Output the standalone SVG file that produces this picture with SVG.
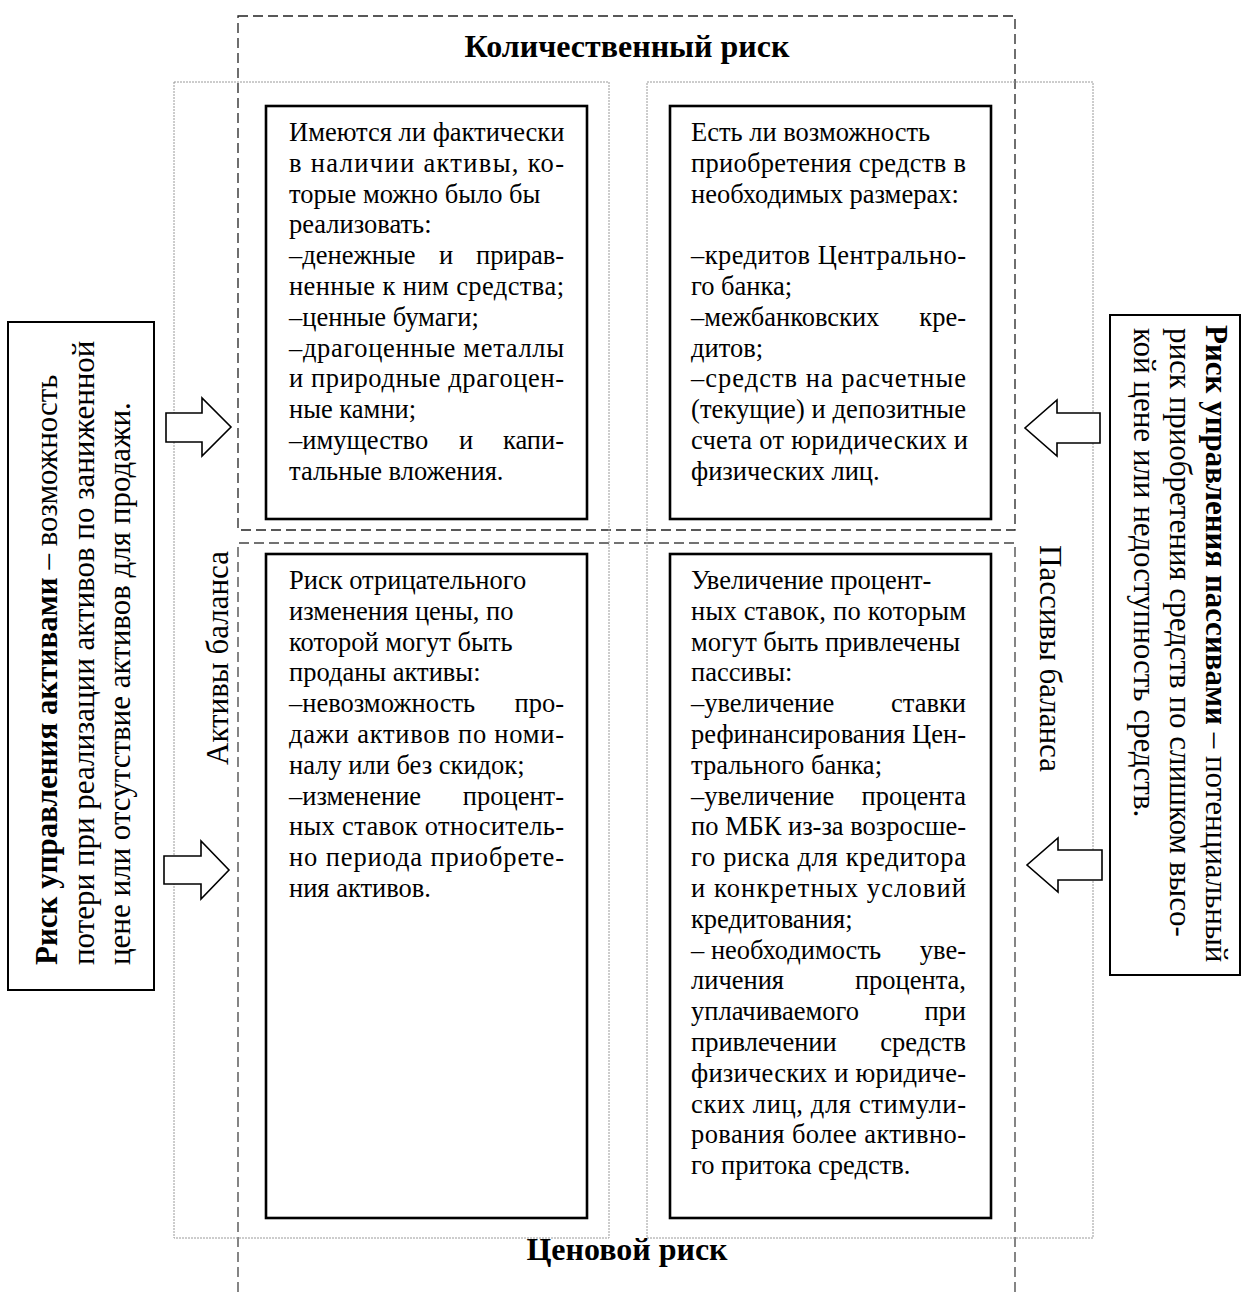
<svg xmlns="http://www.w3.org/2000/svg" width="1248" height="1292" viewBox="0 0 1248 1292">
  <style>
    text { font-family: "Liberation Serif", "Times New Roman", serif; fill: #000; }
    .t { font-size: 26.5px; }
    .big { font-size: 31px; }
    .title { font-size: 32px; font-weight: bold; }
    .b { font-weight: bold; }
    .box { fill: #fff; stroke: #000; stroke-width: 2.6; }
    .side { fill: #fff; stroke: #000; stroke-width: 2; }
    .zone { fill: none; stroke: #222; stroke-width: 1.3; stroke-dasharray: 10 5; }
    .zone2 { fill: none; stroke: #444; stroke-width: 1.3; stroke-dasharray: 10 5; }
    .half { fill: none; stroke: #9a9a9a; stroke-width: 1; stroke-dasharray: 2 1; }
    .arrow { fill: #fff; stroke: #000; stroke-width: 1.6; stroke-linejoin: miter; }
  </style>

  <rect width="1248" height="1292" fill="#fff"/>

  <!-- risk zones (dashed) -->
  <g id="zone-quantity">
    <rect class="zone" x="238" y="16" width="777" height="514"/>
    <text class="title" x="627" y="57" text-anchor="middle">Количественный риск</text>
  </g>
  <g id="zone-price">
    <path class="zone2" d="M238,1292 V543 H1015 V1292"/>
    <text class="title" x="627" y="1260" text-anchor="middle">Ценовой риск</text>
  </g>

  <!-- balance halves (dotted) -->
  <g id="assets-half">
    <rect class="half" x="174" y="82" width="435" height="1156"/>
    <text class="big" transform="translate(228,765) rotate(-90)">Активы баланса</text>
  </g>
  <g id="liabilities-half">
    <rect class="half" x="647" y="82" width="446" height="1156"/>
    <text class="big" transform="translate(1040,545) rotate(90)">Пассивы баланса</text>
  </g>

  <!-- quantity risk: assets -->
  <g id="node-qty-assets">
    <rect class="box" x="266" y="106" width="321" height="413"/>
    <text class="t" x="289" y="141">Имеются ли фактически</text>
    <text class="t" x="289" y="171.8" textLength="275" lengthAdjust="spacing">в наличии активы, ко-</text>
    <text class="t" x="289" y="202.6">торые можно было бы</text>
    <text class="t" x="289" y="233.4">реализовать:</text>
    <text class="t" y="264.2"><tspan x="289">–денежные</tspan><tspan x="446" text-anchor="middle">и</tspan><tspan x="564" text-anchor="end">прирав-</tspan></text>
    <text class="t" x="289" y="295" textLength="275" lengthAdjust="spacing">ненные к ним средства;</text>
    <text class="t" x="289" y="325.8">–ценные бумаги;</text>
    <text class="t" x="289" y="356.6" textLength="275" lengthAdjust="spacing">–драгоценные металлы</text>
    <text class="t" x="289" y="387.4" textLength="275" lengthAdjust="spacing">и природные драгоцен-</text>
    <text class="t" x="289" y="418.2">ные камни;</text>
    <text class="t" y="449"><tspan x="289">–имущество</tspan><tspan x="466" text-anchor="middle">и</tspan><tspan x="564" text-anchor="end">капи-</tspan></text>
    <text class="t" x="289" y="479.8">тальные вложения.</text>
  </g>

  <!-- quantity risk: liabilities -->
  <g id="node-qty-liabilities">
    <rect class="box" x="670" y="106" width="321" height="413"/>
    <text class="t" x="691" y="141">Есть ли возможность</text>
    <text class="t" x="691" y="171.8" textLength="275" lengthAdjust="spacing">приобретения средств в</text>
    <text class="t" x="691" y="202.6">необходимых размерах:</text>
    <text class="t" x="691" y="264.2" textLength="275" lengthAdjust="spacing">–кредитов Центрально-</text>
    <text class="t" x="691" y="295">го банка;</text>
    <text class="t" y="325.8"><tspan x="691">–межбанковских</tspan><tspan x="966" text-anchor="end">кре-</tspan></text>
    <text class="t" x="691" y="356.6">дитов;</text>
    <text class="t" x="691" y="387.4" textLength="275" lengthAdjust="spacing">–средств на расчетные</text>
    <text class="t" x="691" y="418.2" textLength="275" lengthAdjust="spacing">(текущие) и депозитные</text>
    <text class="t" x="691" y="449" textLength="277" lengthAdjust="spacing">счета от юридических и</text>
    <text class="t" x="691" y="479.8">физических лиц.</text>
  </g>

  <!-- price risk: assets -->
  <g id="node-price-assets">
    <rect class="box" x="266" y="554" width="321" height="664"/>
    <text class="t" x="289" y="589">Риск отрицательного</text>
    <text class="t" x="289" y="619.8">изменения цены, по</text>
    <text class="t" x="289" y="650.6">которой могут быть</text>
    <text class="t" x="289" y="681.4">проданы активы:</text>
    <text class="t" y="712.2"><tspan x="289">–невозможность</tspan><tspan x="564" text-anchor="end">про-</tspan></text>
    <text class="t" x="289" y="743" textLength="275" lengthAdjust="spacing">дажи активов по номи-</text>
    <text class="t" x="289" y="773.8">налу или без скидок;</text>
    <text class="t" y="804.6"><tspan x="289">–изменение</tspan><tspan x="564" text-anchor="end">процент-</tspan></text>
    <text class="t" x="289" y="835.4" textLength="275" lengthAdjust="spacing">ных ставок относитель-</text>
    <text class="t" x="289" y="866.2" textLength="275" lengthAdjust="spacing">но периода приобрете-</text>
    <text class="t" x="289" y="897">ния активов.</text>
  </g>

  <!-- price risk: liabilities -->
  <g id="node-price-liabilities">
    <rect class="box" x="670" y="554" width="321" height="664"/>
    <text class="t" x="691" y="589">Увеличение процент-</text>
    <text class="t" x="691" y="619.8" textLength="275" lengthAdjust="spacing">ных ставок, по которым</text>
    <text class="t" x="691" y="650.6">могут быть привлечены</text>
    <text class="t" x="691" y="681.4">пассивы:</text>
    <text class="t" y="712.2"><tspan x="691">–увеличение</tspan><tspan x="966" text-anchor="end">ставки</tspan></text>
    <text class="t" x="691" y="743" textLength="275" lengthAdjust="spacing">рефинансирования Цен-</text>
    <text class="t" x="691" y="773.8">трального банка;</text>
    <text class="t" y="804.6"><tspan x="691">–увеличение</tspan><tspan x="966" text-anchor="end">процента</tspan></text>
    <text class="t" x="691" y="835.4" textLength="275" lengthAdjust="spacing">по МБК из-за возросше-</text>
    <text class="t" x="691" y="866.2" textLength="275" lengthAdjust="spacing">го риска для кредитора</text>
    <text class="t" x="691" y="897" textLength="275" lengthAdjust="spacing">и конкретных условий</text>
    <text class="t" x="691" y="927.8">кредитования;</text>
    <text class="t" y="958.6"><tspan x="691">– необходимость</tspan><tspan x="966" text-anchor="end">уве-</tspan></text>
    <text class="t" y="989.4"><tspan x="691">личения</tspan><tspan x="966" text-anchor="end">процента,</tspan></text>
    <text class="t" y="1020.2"><tspan x="691">уплачиваемого</tspan><tspan x="966" text-anchor="end">при</tspan></text>
    <text class="t" y="1051"><tspan x="691">привлечении</tspan><tspan x="966" text-anchor="end">средств</tspan></text>
    <text class="t" x="691" y="1081.8" textLength="275" lengthAdjust="spacing">физических и юридиче-</text>
    <text class="t" x="691" y="1112.6" textLength="275" lengthAdjust="spacing">ских лиц, для стимули-</text>
    <text class="t" x="691" y="1143.4" textLength="275" lengthAdjust="spacing">рования более активно-</text>
    <text class="t" x="691" y="1174.2">го притока средств.</text>
  </g>

  <!-- asset management risk (left, vertical) -->
  <g id="node-asset-risk">
    <rect class="side" x="8" y="322" width="146" height="668"/>
    <text class="big" transform="translate(57,965) rotate(-90)"><tspan class="b">Риск управления активами</tspan> – возможность</text>
    <text class="big" transform="translate(94,965) rotate(-90)">потери при реализации активов по заниженной</text>
    <text class="big" transform="translate(130,965) rotate(-90)">цене или отсутствие активов для продажи.</text>
  </g>

  <!-- liability management risk (right, vertical) -->
  <g id="node-liability-risk">
    <rect class="side" x="1110" y="315" width="130" height="660"/>
    <text class="big" transform="translate(1206,325) rotate(90)"><tspan class="b">Риск управления пассивами</tspan> – потенциальный</text>
    <text class="big" transform="translate(1170,328) rotate(90)">риск приобретения средств по слишком высо-</text>
    <text class="big" transform="translate(1134,328) rotate(90)">кой цене или недоступность средств.</text>
  </g>

  <!-- block arrows -->
  <g id="connectors">
    <polygon class="arrow" points="166,413 202,413 202,398 231,427 202,456 202,442 166,442"/>
    <polygon class="arrow" points="164,856 201,856 201,841 229,870 201,899 201,884 164,884"/>
    <polygon class="arrow" points="1100,413 1057,413 1057,400 1025,428 1057,456 1057,443 1100,443"/>
    <polygon class="arrow" points="1102,850 1058,850 1058,838 1027,865 1058,892 1058,880 1102,880"/>
  </g>
</svg>
